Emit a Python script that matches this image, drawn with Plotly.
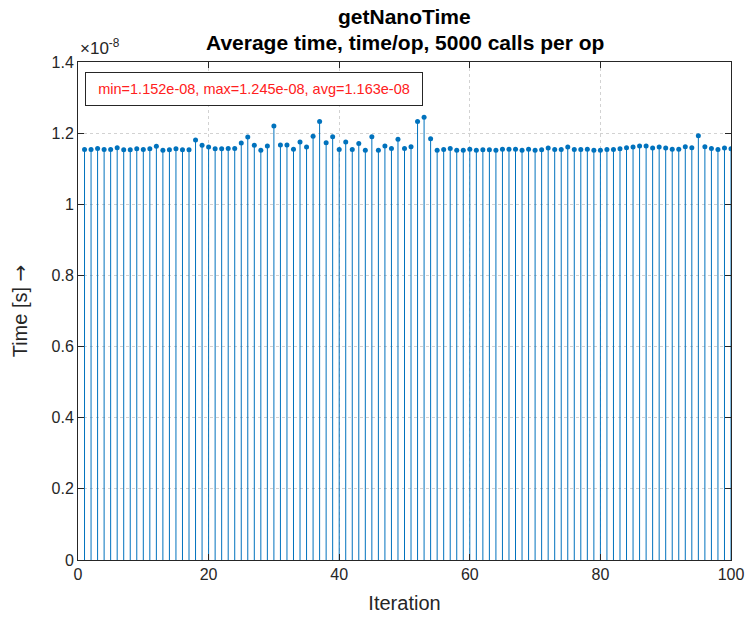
import plotly.graph_objects as go

iterations = list(range(1, 101))
# average time per op, in units of 1e-8 s
time_e8 = [
    1.154, 1.154, 1.157, 1.154, 1.154, 1.159, 1.153, 1.153, 1.156, 1.154,
    1.156, 1.163, 1.152, 1.153, 1.156, 1.153, 1.153, 1.181, 1.166, 1.161,
    1.156, 1.156, 1.157, 1.157, 1.172, 1.189, 1.166, 1.152, 1.164, 1.220,
    1.167, 1.167, 1.155, 1.175, 1.161, 1.191, 1.233, 1.173, 1.190, 1.154,
    1.175, 1.154, 1.171, 1.152, 1.190, 1.152, 1.164, 1.157, 1.183, 1.157,
    1.162, 1.233, 1.245, 1.184, 1.152, 1.154, 1.157, 1.152, 1.152, 1.155,
    1.152, 1.153, 1.153, 1.152, 1.155, 1.155, 1.155, 1.152, 1.155, 1.152,
    1.153, 1.158, 1.154, 1.154, 1.161, 1.154, 1.154, 1.155, 1.152, 1.152,
    1.154, 1.154, 1.156, 1.159, 1.161, 1.164, 1.164, 1.158, 1.161, 1.158,
    1.155, 1.155, 1.162, 1.159, 1.193, 1.162, 1.157, 1.154, 1.158, 1.156,
]
y_ticks = [0, 0.2, 0.4, 0.6, 0.8, 1, 1.2, 1.4]
x_ticks = [0, 20, 40, 60, 80, 100]
title_lines = ["getNanoTime", "Average time, time/op, 5000 calls per op"]
stats_text = "min=1.152e-08, max=1.245e-08, avg=1.163e-08"

blue = "#0072BD"
dark = "#262626"
font = "Liberation Sans, Arial, sans-serif"

stem_x, stem_y = [], []
for xi, yi in zip(iterations, time_e8):
    stem_x += [xi, xi, None]
    stem_y += [0, yi, None]

fig = go.Figure()
fig.add_trace(go.Scatter(x=stem_x, y=stem_y, mode="lines",
                         line=dict(color=blue, width=1), hoverinfo="skip",
                         showlegend=False))
fig.add_trace(go.Scatter(x=iterations, y=time_e8, mode="markers",
                         marker=dict(color=blue, size=5, line=dict(width=0)),
                         showlegend=False))

axis_common = dict(
    showline=True, linecolor=dark, linewidth=1, mirror="ticks",
    ticks="inside", ticklen=6, tickcolor=dark, automargin=False,
    showgrid=True, gridcolor="rgba(205,205,205,0.9)", griddash="dot", gridwidth=1,
    zeroline=False, tickfont=dict(family=font, size=16, color=dark),
)

fig.update_layout(
    width=747, height=621,
    margin=dict(l=78, r=16, t=62, b=61),
    paper_bgcolor="white", plot_bgcolor="white",
    font=dict(family=font, color=dark),
    xaxis=dict(range=[0, 100], tickvals=x_ticks,
               ticktext=[str(v) for v in x_ticks],
               title=dict(text="Iteration", font=dict(size=20, color=dark), standoff=13),
               **axis_common),
    yaxis=dict(range=[0, 1.4], tickvals=y_ticks,
               ticktext=[("%g" % v) for v in y_ticks],
               title=dict(text="Time [s] <span style='font-family:DejaVu Sans'>→</span>",
                          font=dict(size=20, color=dark), standoff=18),
               **axis_common),
    annotations=[
        dict(text="<b>" + title_lines[0] + "</b>", xref="paper", yref="paper",
             x=0.5, y=1.0, yshift=46, yanchor="middle", showarrow=False,
             font=dict(size=21, color="black", family=font)),
        dict(text="<b>" + title_lines[1] + "</b>", xref="paper", yref="paper",
             x=0.5, y=1.0, yshift=20, yanchor="middle", showarrow=False,
             font=dict(size=21, color="black", family=font)),
        dict(text="×10<sup>-8</sup>", xref="paper", yref="paper",
             x=0.0, y=1.0, xanchor="left", yanchor="bottom", yshift=2,
             showarrow=False, font=dict(size=17, color=dark, family=font)),
        dict(text=stats_text, xref="paper", yref="paper",
             x=0.0107, y=0.98, xanchor="left", yanchor="top",
             showarrow=False, align="center",
             width=330, height=26, borderpad=3,
             bordercolor="#262626", borderwidth=1, bgcolor="white",
             font=dict(size=14.5, color="#ff2020", family=font)),
    ],
)

fig.write_html("out.html")
